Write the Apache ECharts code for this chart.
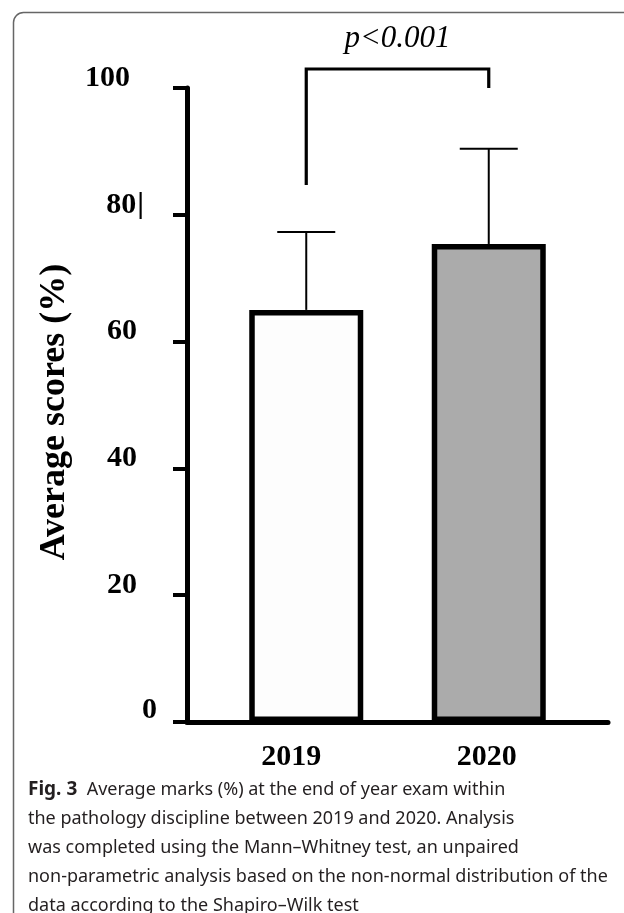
<!DOCTYPE html>
<html>
<head>
<meta charset="utf-8">
<script src="https://cdn.jsdelivr.net/npm/echarts@6/dist/echarts.min.js"></script>
<style>
  html, body {margin: 0; padding: 0; background: #fff;}
  #chart {width: 624px; height: 913px;}
</style>
</head>
<body>
<div id="chart"></div>
<script>
const years = ['2019', '2020'];
const means = [65.0, 75.4];
const upperErr = [77.3, 90.4];
const barColors = ['#fdfdfd', '#ababab'];
// bracket: left foot, top, right foot (in % units)
const bracketLevels = [84.7, 103, 100];
const pLabel = 'p<0.001';
const captionLines = [
  '{b|Fig. 3}  Average marks (%) at the end of year exam within',
  'the pathology discipline between 2019 and 2020. Analysis',
  'was completed using the Mann\u2013Whitney test, an unpaired',
  'non-parametric analysis based on the non-normal distribution of the',
  'data according to the Shapiro\u2013Wilk test'
];

const serif = '"Liberation Serif", "Times New Roman", serif';
const chart = echarts.init(document.getElementById('chart'));

const tickStyle = (pad) => ({
  fontFamily: serif, fontWeight: 'bold', fontSize: 30, color: '#000', padding: pad
});

chart.setOption({
  animation: false,
  backgroundColor: '#fff',
  title: {
    left: 28,
    top: 775,
    padding: 0,
    text: captionLines.join('\n'),
    textStyle: {
      fontFamily: '"Noto Sans", sans-serif',
      fontSize: 18,
      fontWeight: 'normal',
      color: '#231f20',
      lineHeight: 29,
      rich: {
        b: {fontFamily: '"Noto Sans", sans-serif', fontSize: 19, fontWeight: 'bold', color: '#231f20', lineHeight: 29}
      }
    }
  },
  graphic: [{
    type: 'rect',
    left: 11,
    top: 10,
    silent: true,
    shape: {width: 660, height: 940, r: 10},
    style: {fill: 'none', stroke: '#666', lineWidth: 1.5}
  }],
  grid: [
    {left: 215, right: 44, top: 88, bottom: 191},
    {left: 187, right: 16, top: 88, bottom: 191}
  ],
  xAxis: [
    {
      type: 'category',
      data: years,
      axisLine: {show: false},
      axisTick: {show: false},
      axisLabel: {
        margin: 20,
        formatter: v => v === '2019' ? '{a|' + v + '}' : '{c|' + v + '}',
        rich: {
          a: tickStyle([0, 30, 0, 0]),
          c: tickStyle([0, 4, 0, 0])
        }
      }
    },
    {
      gridIndex: 1,
      type: 'value',
      min: 0,
      max: 1,
      axisLine: {show: true, onZero: false, lineStyle: {color: '#000', width: 5}},
      axisTick: {show: false},
      axisLabel: {show: false},
      splitLine: {show: false}
    }
  ],
  yAxis: [
    {
      type: 'value',
      min: 0,
      max: 100,
      interval: 20,
      offset: 28,
      name: 'Average scores (%)',
      nameLocation: 'middle',
      nameRotate: 90,
      nameGap: 114,
      nameTextStyle: {fontFamily: serif, fontWeight: 'bold', fontSize: 36, color: '#000', padding: [0, 14, 0, 0]},
      axisLine: {show: true, lineStyle: {color: '#000', width: 5}},
      axisTick: {show: true, length: 14, lineStyle: {color: '#000', width: 4}},
      splitLine: {show: false},
      axisLabel: {
        margin: 30,
        formatter: v => {
          if (v === 0) return '{z|0}';
          if (v === 100) return '{h|100}';
          if (v === 80) return '{e|80}{k||}';
          return '{n|' + v + '}';
        },
        rich: {
          n: tickStyle([0, 20, 20, 0]),
          h: tickStyle([0, 27, 20, 0]),
          z: tickStyle([0, 0, 24, 0]),
          e: tickStyle([0, 0, 20, 0]),
          k: {fontFamily: '"DejaVu Sans"', fontSize: 26, color: '#000', padding: [0, 12, 20, 0]}
        }
      }
    },
    {gridIndex: 1, type: 'value', min: 0, max: 1, show: false}
  ],
  series: [
    {
      type: 'bar',
      barWidth: 114,
      data: means.map((m, i) => ({value: m, itemStyle: {color: barColors[i]}})),
      itemStyle: {borderColor: '#000', borderWidth: 5.5}
    },
    {
      type: 'custom',
      clip: false,
      data: years.map((y, i) => [i, means[i], upperErr[i]]),
      renderItem: (params, api) => {
        const base = api.coord([api.value(0), api.value(1)]);
        const top = api.coord([api.value(0), api.value(2)]);
        const half = 29;
        const st = {stroke: '#000', lineWidth: 2};
        return {
          type: 'group',
          children: [
            {type: 'line', shape: {x1: base[0], y1: base[1], x2: top[0], y2: top[1]}, style: st},
            {type: 'line', shape: {x1: top[0] - half, y1: top[1], x2: top[0] + half, y2: top[1]}, style: st}
          ]
        };
      }
    },
    {
      type: 'custom',
      clip: false,
      data: [[0, 1, bracketLevels[0], bracketLevels[1], bracketLevels[2]]],
      encode: {x: 0, y: 3},
      renderItem: (params, api) => {
        const l = api.coord([api.value(0), api.value(2)]);
        const lt = api.coord([api.value(0), api.value(3)]);
        const rt = api.coord([api.value(1), api.value(3)]);
        const r = api.coord([api.value(1), api.value(4)]);
        return {
          type: 'group',
          children: [
            {
              type: 'polyline',
              shape: {points: [l, lt, rt, r]},
              style: {stroke: '#000', lineWidth: 3.2, fill: null}
            },
            {
              type: 'text',
              x: (lt[0] + rt[0]) / 2,
              y: lt[1] - 30,
              style: {
                text: pLabel, fontFamily: serif, fontStyle: 'italic', fontSize: 31,
                fill: '#000', align: 'center', verticalAlign: 'middle'
              }
            }
          ]
        };
      }
    }
  ]
});
</script>
</body>
</html>
